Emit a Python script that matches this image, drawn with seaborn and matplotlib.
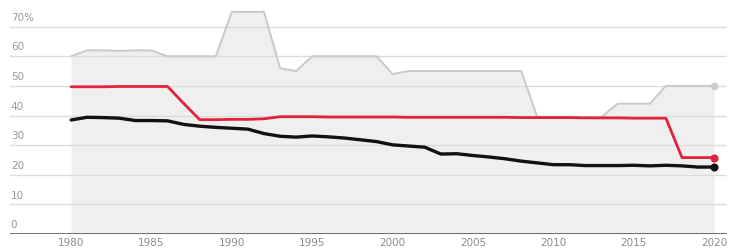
import numpy as np
import pandas as pd
import matplotlib
matplotlib.use("Agg")
import matplotlib.pyplot as plt
import seaborn as sns

years = list(range(1980, 2021))

# upper edge of the grey range band
range_max = [60, 62, 62, 61.8, 62, 62, 60, 60, 60, 60,
             75, 75, 75, 56, 55, 60, 60, 60, 60, 60,
             54, 55, 55, 55, 55, 55, 55, 55, 55, 39.5,
             39.5, 39.5, 39.5, 39.5, 44, 44, 44, 50, 50, 50,
             50]

# red series
red_rate = [49.7, 49.7, 49.7, 49.8, 49.8, 49.8, 49.8, 44.1, 38.6, 38.6,
            38.7, 38.7, 38.9, 39.6, 39.6, 39.6, 39.5, 39.5, 39.5, 39.5,
            39.5, 39.4, 39.4, 39.4, 39.4, 39.4, 39.4, 39.4, 39.3, 39.3,
            39.3, 39.3, 39.2, 39.2, 39.2, 39.1, 39.1, 39.1, 25.8, 25.8,
            25.8]

# black series
black_rate = [38.5, 39.4, 39.3, 39.1, 38.3, 38.3, 38.2, 37.0, 36.4, 36.0,
              35.7, 35.4, 33.9, 33.0, 32.7, 33.1, 32.8, 32.4, 31.8, 31.2,
              30.1, 29.7, 29.3, 27.0, 27.1, 26.5, 26.0, 25.4, 24.6, 24.0,
              23.4, 23.4, 23.1, 23.1, 23.1, 23.2, 23.0, 23.2, 23.0, 22.6,
              22.6]

y_ticks = [0, 10, 20, 30, 40, 50, 60, 70]
y_labels = ["0", "10", "20", "30", "40", "50", "60", "70%"]
x_ticks = [1980, 1985, 1990, 1995, 2000, 2005, 2010, 2015, 2020]

df = pd.DataFrame({"year": years, "max": range_max, "red": red_rate, "black": black_rate})

sns.set_style("white")
plt.rcParams["font.family"] = ["DejaVu Sans"]

fig = plt.figure(figsize=(7.35, 2.52), dpi=100)
ax = fig.add_axes([10 / 735, 18 / 252, 717 / 735, 234 / 252])

ax.set_xlim(1976.2, 2020.8)
ax.set_ylim(0, 79)

# grey band
ax.fill_between(df["year"], 0, df["max"], color="#efefef", lw=0, zorder=1)

# gridlines
for t in y_ticks[1:]:
    ax.axhline(t, color="#dcdcdc", lw=1, zorder=2)
ax.axhline(0, color="#666666", lw=1.3, zorder=5)

sns.lineplot(data=df, x="year", y="max", ax=ax, color="#c9c9c9", lw=1.4, zorder=3)
sns.lineplot(data=df, x="year", y="red", ax=ax, color="#e2223c", lw=2.0, zorder=4)
sns.lineplot(data=df, x="year", y="black", ax=ax, color="#111111", lw=2.4, zorder=4)

last = df.iloc[-1]
ax.scatter([last["year"]], [last["max"]], s=30, color="#cccccc", zorder=5, lw=0)
ax.scatter([last["year"]], [last["red"]], s=34, color="#e2223c", zorder=6, lw=0)
ax.scatter([last["year"]], [last["black"]], s=34, color="#111111", zorder=6, lw=0)

ax.set_yticks([])
for t, lab in zip(y_ticks, y_labels):
    ax.text(1976.25, t + 1.3, lab, color="#9a9a9a", fontsize=7.5, ha="left", va="bottom", zorder=6)

ax.set_xticks(x_ticks)
ax.set_xticklabels([str(x) for x in x_ticks], color="#8a8a8a", fontsize=7.5)
ax.tick_params(axis="x", length=0, pad=3)
ax.set_xlabel("")
ax.set_ylabel("")
for s in ax.spines.values():
    s.set_visible(False)

fig.savefig("out.png", dpi=100)
